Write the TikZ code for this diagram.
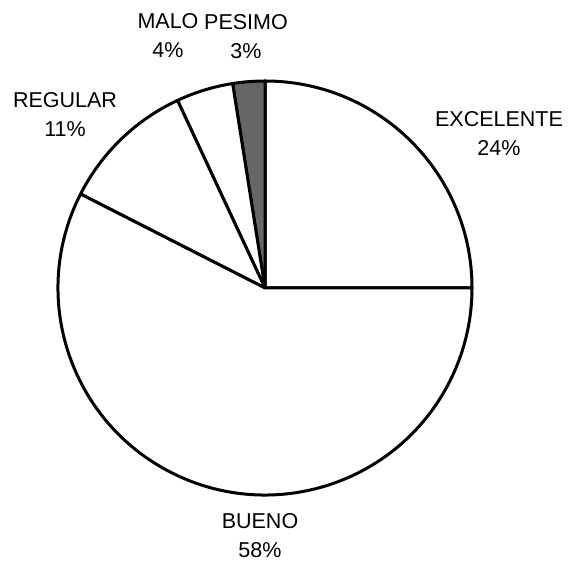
\documentclass[tikz,border=0pt]{standalone}
\usepackage{fontspec}
\setmainfont{Liberation Sans}
\usepackage{tikz}

\begin{document}
\begin{tikzpicture}[x=1pt,y=1pt,
    slice/.style={draw=black,line width=3pt,line join=round},
    lbl/.style={inner sep=0pt,align=center,font=\fontsize{21.5}{29}\selectfont}]
        \useasboundingbox (0,0) rectangle (568,562);
        \coordinate (O) at (265,274);

        % slices
        \draw[slice,fill=white] (O) -- ++(0:207) arc[start angle=0,end angle=90,radius=207] -- cycle;
        \draw[slice,fill=black!60] (O) -- ++(90:207) arc[start angle=90,end angle=99,radius=207] -- cycle;
        \draw[slice,fill=white] (O) -- ++(99:207) arc[start angle=99,end angle=115,radius=207] -- cycle;
        \draw[slice,fill=white] (O) -- ++(115:207) arc[start angle=115,end angle=153,radius=207] -- cycle;
        \draw[slice,fill=white] (O) -- ++(153:207) arc[start angle=153,end angle=360,radius=207] -- cycle;

        % labels
        \node[lbl] (excelente) at (499,428.5) {EXCELENTE\\24\%};
        \node[lbl] (bueno) at (260,26) {BUENO\\58\%};
        \node[lbl] (regular) at (65,447) {REGULAR\\11\%};
        \node[lbl] (malo) at (168,526) {MALO\\4\%};
        \node[lbl] (pesimo) at (246,525.5) {PESIMO\\3\%};
\end{tikzpicture}
\end{document}
